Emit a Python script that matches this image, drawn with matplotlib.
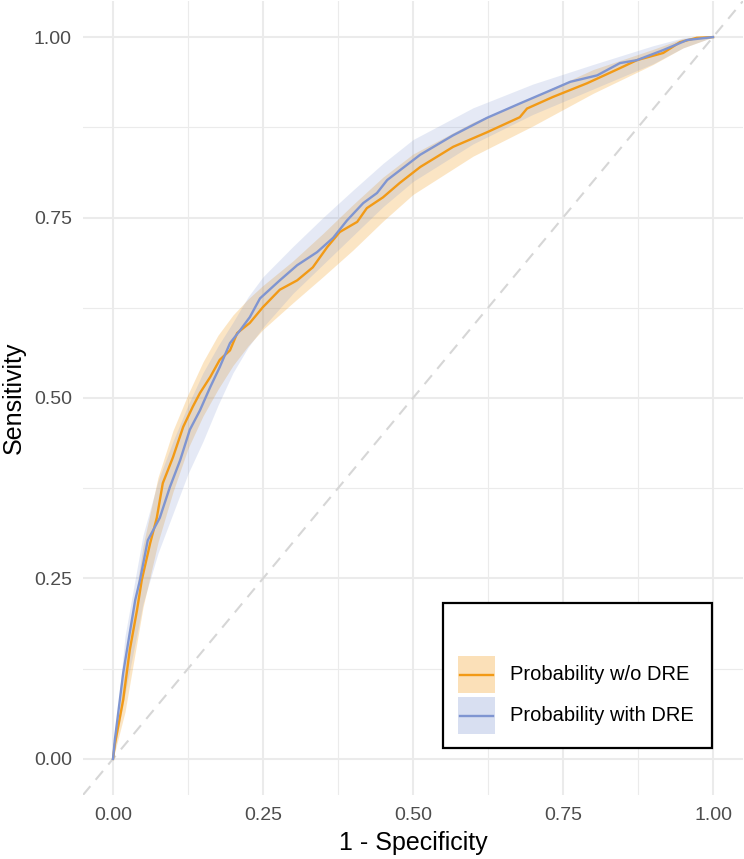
import matplotlib
matplotlib.use("Agg")
import matplotlib.pyplot as plt
from matplotlib.patches import Rectangle
from matplotlib.lines import Line2D

plt.rcParams['font.family'] = ['Liberation Sans', 'DejaVu Sans']

# ---------------- data ----------------
fpr_wo = [0, 0.003, 0.017, 0.028, 0.04, 0.048, 0.062, 0.073, 0.083, 0.10, 0.117, 0.133,
          0.145, 0.162, 0.178, 0.195, 0.207, 0.228, 0.25, 0.278, 0.307, 0.333, 0.357,
          0.378, 0.407, 0.423, 0.45, 0.478, 0.512, 0.567, 0.623, 0.678, 0.69, 0.733,
          0.79, 0.845, 0.873, 0.917, 0.945, 0.973, 1.0]
tpr_wo = [0, 0.02, 0.082, 0.151, 0.206, 0.248, 0.299, 0.334, 0.382, 0.418, 0.460, 0.488,
          0.507, 0.529, 0.553, 0.566, 0.590, 0.604, 0.626, 0.650, 0.663, 0.681, 0.709,
          0.730, 0.744, 0.763, 0.778, 0.798, 0.820, 0.848, 0.868, 0.889, 0.901, 0.917,
          0.936, 0.957, 0.968, 0.978, 0.993, 0.999, 1.0]

fpr_with = [0, 0.003, 0.017, 0.028, 0.037, 0.045, 0.058, 0.078, 0.095, 0.112, 0.128,
            0.145, 0.162, 0.178, 0.195, 0.212, 0.228, 0.245, 0.278, 0.307, 0.34, 0.367,
            0.39, 0.417, 0.44, 0.457, 0.512, 0.567, 0.623, 0.678, 0.723, 0.762, 0.807,
            0.845, 0.873, 0.917, 0.957, 1.0]
tpr_with = [0, 0.026, 0.119, 0.175, 0.22, 0.248, 0.303, 0.334, 0.377, 0.414, 0.456,
            0.483, 0.515, 0.543, 0.576, 0.594, 0.612, 0.638, 0.663, 0.684, 0.702, 0.722,
            0.746, 0.770, 0.784, 0.802, 0.837, 0.864, 0.888, 0.908, 0.924, 0.938, 0.947,
            0.964, 0.968, 0.982, 0.996, 1.0]

band_fpr = [0, 0.02, 0.05, 0.075, 0.10, 0.125, 0.15, 0.175, 0.20, 0.225, 0.25, 0.30,
            0.35, 0.40, 0.45, 0.50, 0.60, 0.70, 0.80, 0.90, 0.95, 1.0]
wo_lo = [0, 0.065, 0.21, 0.30, 0.37, 0.43, 0.475, 0.512, 0.545, 0.572, 0.595, 0.632,
         0.668, 0.705, 0.745, 0.782, 0.835, 0.877, 0.922, 0.962, 0.985, 1.0]
wo_hi = [0, 0.13, 0.295, 0.39, 0.455, 0.505, 0.55, 0.587, 0.615, 0.637, 0.656, 0.69,
         0.728, 0.768, 0.806, 0.838, 0.882, 0.917, 0.955, 0.983, 0.998, 1.0]
with_lo = [0, 0.09, 0.215, 0.285, 0.34, 0.395, 0.44, 0.49, 0.535, 0.57, 0.598, 0.645,
           0.685, 0.725, 0.765, 0.80, 0.852, 0.893, 0.928, 0.963, 0.985, 1.0]
with_hi = [0, 0.17, 0.31, 0.385, 0.44, 0.49, 0.535, 0.572, 0.605, 0.64, 0.668, 0.71,
           0.75, 0.788, 0.825, 0.858, 0.902, 0.935, 0.962, 0.988, 0.999, 1.0]

labels = ["Probability w/o DRE", "Probability with DRE"]
ticks = [0.00, 0.25, 0.50, 0.75, 1.00]
tick_labels = ["0.00", "0.25", "0.50", "0.75", "1.00"]

# ---------------- styles ----------------
c_wo = "#F29A16"
c_with = "#7F95D1"
band_alpha = 0.25

W, H, DPI = 744, 859, 100
fig = plt.figure(figsize=(W / DPI, H / DPI), dpi=DPI)
ax = fig.add_axes([83 / W, 1 - 795 / H, 660 / W, 794 / H])

ax.set_xlim(-0.05, 1.05)
ax.set_ylim(-0.05, 1.05)

# grid
ax.set_xticks(ticks)
ax.set_yticks(ticks)
ax.set_xticks([0.125, 0.375, 0.625, 0.875], minor=True)
ax.set_yticks([0.125, 0.375, 0.625, 0.875], minor=True)
ax.set_xticklabels(tick_labels)
ax.set_yticklabels(tick_labels)
ax.grid(True, which="major", color="#EBEBEB", linewidth=1.5, zorder=0)
ax.grid(True, which="minor", color="#EBEBEB", linewidth=0.8, zorder=0)
ax.set_axisbelow(True)
ax.tick_params(which="both", length=0)
ax.tick_params(axis="x", labelsize=14, labelcolor="#4D4D4D", pad=9)
ax.tick_params(axis="y", labelsize=14, labelcolor="#4D4D4D", pad=8)
for s in ax.spines.values():
    s.set_visible(False)

# diagonal reference
ax.plot([-0.05, 1.05], [-0.05, 1.05], color="#D6D6D6", linewidth=1.5,
        dashes=(5.5, 4), zorder=1)

# bands
ax.fill_between(band_fpr, wo_lo, wo_hi, color=c_wo, alpha=band_alpha, linewidth=0, zorder=2)
ax.fill_between(band_fpr, with_lo, with_hi, color=c_with, alpha=band_alpha * 0.8,
                linewidth=0, zorder=2)

# curves
ax.plot(fpr_wo, tpr_wo, color=c_wo, linewidth=1.7, zorder=3)
ax.plot(fpr_with, tpr_with, color=c_with, linewidth=1.7, zorder=4)

ax.set_xlabel("1 - Specificity", fontsize=18)
ax.set_ylabel("Sensitivity", fontsize=18, va="center")
ax.xaxis.set_label_coords(0.5, -(843 - 795) / 794)
ax.xaxis.label.set_va("center")
ax.yaxis.set_label_coords(-(83 - 14) / 660, (795 - 398) / 794)

# legend drawn in figure pixel coordinates
def fx(px):
    return px / W

def fy(py):
    return 1 - py / H

fig.patches.append(Rectangle((fx(443), fy(748)), fx(712) - fx(443), fy(603) - fy(748),
                             transform=fig.transFigure, facecolor="white",
                             edgecolor="black", linewidth=1.6, zorder=10))
for i, (lab, col) in enumerate(zip(labels, [c_wo, c_with])):
    top = 656 + i * 41
    fig.patches.append(Rectangle((fx(458), fy(top + 37)), fx(495) - fx(458),
                                 fy(top) - fy(top + 37), transform=fig.transFigure,
                                 facecolor=col, alpha=0.3, edgecolor="none", zorder=11))
    yc = fy(top + 18.5)
    fig.lines.append(Line2D([fx(460), fx(493)], [yc, yc], transform=fig.transFigure,
                            color=col, linewidth=1.7, zorder=12))
    fig.text(fx(510), yc, lab, fontsize=14.5, color="black", va="center", ha="left",
             zorder=12)

fig.savefig("out.png", dpi=DPI)
